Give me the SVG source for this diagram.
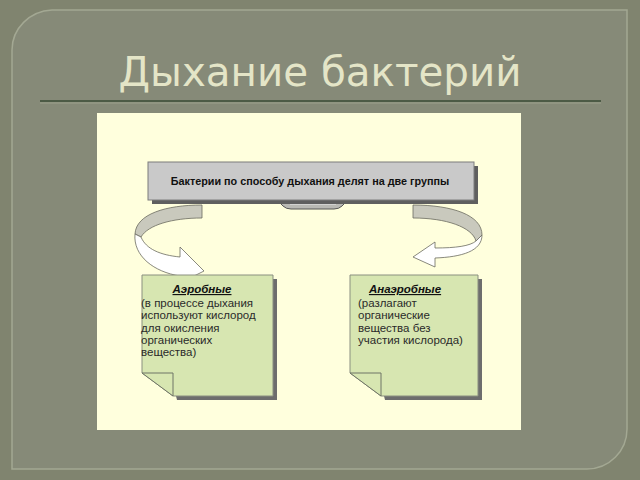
<svg xmlns="http://www.w3.org/2000/svg" width="640" height="480" viewBox="0 0 640 480">
<defs>
<style>
.body{font-family:"Liberation Sans",Arial,sans-serif;font-size:11.5px;fill:#2a2a2a}
.head{font-family:"Liberation Sans",Arial,sans-serif;font-size:11.5px;font-weight:bold;font-style:italic;text-decoration:underline;fill:#111}
.note{fill:#d7e6b1;stroke:#8a8f80;stroke-width:1}
.shadow{fill:#6d6d6d}
.fold{fill:#d7e6b1;stroke:#6f7466;stroke-width:1}
.ribgray{fill:#c9c9bd;stroke:#6b6b60;stroke-width:0.8}
.ribwhite{fill:#ffffff;stroke:#6b6b60;stroke-width:0.8}
</style>
</defs>
<rect x="0" y="0" width="640" height="480" fill="#80846f"/>
<path d="M52,10 H627 V429 A40,40 0 0 1 587,469 H12 V50 A42,40 0 0 1 52,10 Z" fill="#868a78" stroke="#a3a893" stroke-width="1.5"/>
<text x="320" y="86" text-anchor="middle" font-family="DejaVu Sans, sans-serif" font-size="40.4" fill="#e4e5c7">Дыхание бактерий</text>
<line x1="40" y1="101" x2="601" y2="101" stroke="#4c5a45" stroke-width="2"/>
<line x1="40" y1="103" x2="601" y2="103" stroke="#9ba08b" stroke-width="1"/>
<rect x="97" y="113" width="424" height="317" fill="#ffffdd"/>

<g id="connectors">
<path class="ribgray" d="M202,205 L202,218 C172,218 148,225 141,237 L135,234 C136,214 166,205 202,205 Z"/>
<path class="ribwhite" d="M135,234 C133,256 154,272 180,276 L180,283 L204,271 L180,247 L180,257 C160,255 146,249 141,237 Z"/>
<path class="ribgray" d="M413,205 C452,205 482,215 482,235 L476,241 C472,227 446,218 413,218 Z"/>
<path class="ribwhite" d="M482,235 C482,251 462,257 435,258 L435,267 L413,257 L435,242 L435,248 C456,248 470,246 476,241 Z"/>
</g>

<g id="top">
<path d="M276,199 L283,206 Q286,209 291,209 L334,209 Q339,209 342,206 L349,199 Z" fill="#b9b9b4" stroke="#555" stroke-width="1"/>
<line x1="290" y1="204" x2="336" y2="204" stroke="#eee" stroke-width="1"/>
<rect x="152" y="166" width="326" height="38" fill="#5f5f5f"/>
<rect x="148" y="162" width="326" height="38" fill="#c9c9c9" stroke="#7d7d7d" stroke-width="1"/>
<text x="310" y="184.5" text-anchor="middle" font-family="Liberation Sans, Arial, sans-serif" font-size="10.8" font-weight="bold" fill="#111">Бактерии по способу дыхания делят на две группы</text>
</g>

<g id="aerobic">
<path class="shadow" d="M146,279 H277 V400 H177 Z"/>
<path class="note" d="M142,275 H273 V396 H173 L142,373 Z"/>
<path class="fold" d="M142,373 L173,373 L173,396 Z"/>
<text class="head" x="202" y="293" text-anchor="middle">Аэробные</text>
<text class="body" x="141" y="307">(в процессе дыхания</text>
<text class="body" x="141" y="319">используют кислород</text>
<text class="body" x="141" y="331.5">для окисления</text>
<text class="body" x="141" y="344">органических</text>
<text class="body" x="141" y="356">вещества)</text>
</g>

<g id="anaerobic">
<path class="shadow" d="M354,279 H482 V400 H385 Z"/>
<path class="note" d="M350,275 H478 V396 H381 L350,373 Z"/>
<path class="fold" d="M350,373 L381,373 L381,396 Z"/>
<text class="head" x="405" y="293" text-anchor="middle">Анаэробные</text>
<text class="body" x="358" y="307">(разлагают</text>
<text class="body" x="358" y="319">органические</text>
<text class="body" x="358" y="331.5">вещества без</text>
<text class="body" x="358" y="344">участия кислорода)</text>
</g>
</svg>
